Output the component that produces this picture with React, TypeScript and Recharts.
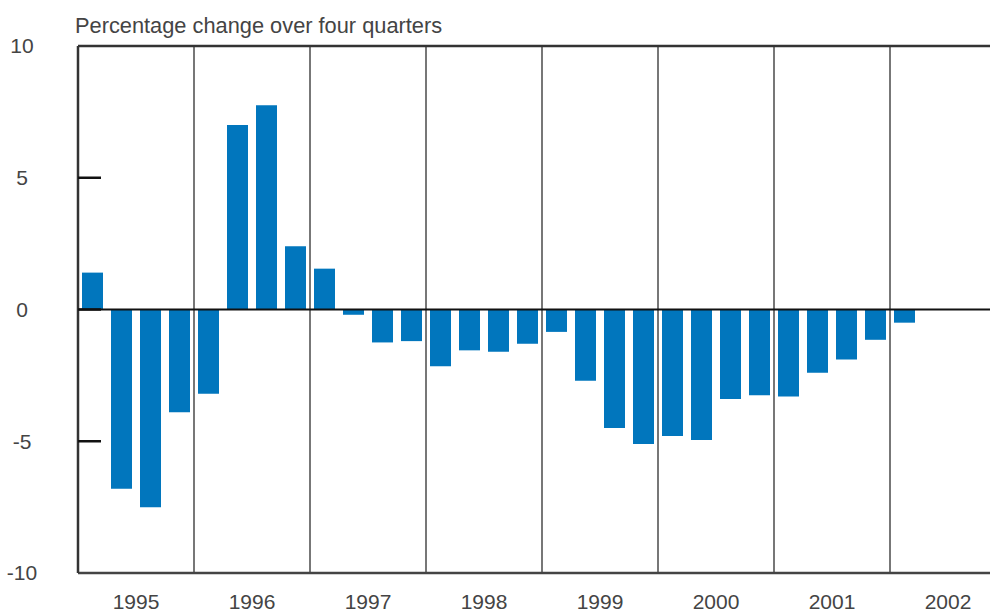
import { BarChart, Bar, XAxis, YAxis, ReferenceLine, CartesianGrid } from 'recharts'

const quarters = [
  '1995Q1', '1995Q2', '1995Q3', '1995Q4',
  '1996Q1', '1996Q2', '1996Q3', '1996Q4',
  '1997Q1', '1997Q2', '1997Q3', '1997Q4',
  '1998Q1', '1998Q2', '1998Q3', '1998Q4',
  '1999Q1', '1999Q2', '1999Q3', '1999Q4',
  '2000Q1', '2000Q2', '2000Q3', '2000Q4',
  '2001Q1', '2001Q2', '2001Q3', '2001Q4',
  '2002Q1', '2002Q2', '2002Q3', '2002Q4',
]
const changes: (number | null)[] = [
  1.4, -6.8, -7.5, -3.9,
  -3.2, 7.0, 7.75, 2.4,
  1.55, -0.2, -1.25, -1.2,
  -2.15, -1.55, -1.6, -1.3,
  -0.85, -2.7, -4.5, -5.1,
  -4.8, -4.95, -3.4, -3.25,
  -3.3, -2.4, -1.9, -1.15,
  -0.5, null, null, null,
]
const years = ['1995', '1996', '1997', '1998', '1999', '2000', '2001', '2002']
const yTicks = [-10, -5, 0, 5, 10]

const data = quarters.map((q, i) => ({ q, value: changes[i] }))
const yearTickQuarters = years.map((y) => y + 'Q2')

const FONT = '"Liberation Sans", Arial, sans-serif'
const TEXT = '#444'
const WIDTH = 1020
const HEIGHT = 611
const MARGIN = { top: 46, right: 14, bottom: 0, left: 0 }
const Y_AXIS_W = 78
const PLOT_LEFT = MARGIN.left + Y_AXIS_W
const PLOT_W = WIDTH - MARGIN.right - PLOT_LEFT
const BAND = PLOT_W / quarters.length

function YTick({ y, payload }: any) {
  const v = payload.value
  return (
    <g>
      <text x={22} y={y} dy="0.35em" textAnchor="middle" fontSize={21} fill={TEXT} fontFamily={FONT}>
        {v}
      </text>
      {Math.abs(v) < 10 && (
        <line x1={PLOT_LEFT} x2={PLOT_LEFT + 23} y1={y} y2={y} stroke="#111" strokeWidth={2.5} />
      )}
    </g>
  )
}

function YearTick({ x, payload }: any) {
  return (
    <text x={x + BAND / 2} y={609} textAnchor="middle" fontSize={21} fill={TEXT} fontFamily={FONT}>
      {String(payload.value).slice(0, 4)}
    </text>
  )
}

export default function App() {
  return (
    <div style={{ position: 'fixed', left: 0, top: 0, width: 990, height: 611, overflow: 'hidden', background: '#fff' }}>
      <div style={{ position: 'absolute', left: 75, top: 13, fontSize: 21.8, color: TEXT, fontFamily: FONT, whiteSpace: 'nowrap' }}>
        Percentage change over four quarters
      </div>
      <BarChart width={WIDTH} height={HEIGHT} data={data} margin={MARGIN} barSize={21}>
        <CartesianGrid
          horizontal={false}
          stroke="#777"
          strokeWidth={2}
          verticalCoordinatesGenerator={({ offset }: any) =>
            years.slice(1).map((_, i) => offset.left + ((i + 1) * offset.width) / years.length)
          }
        />
        <XAxis
          dataKey="q"
          ticks={yearTickQuarters}
          interval={0}
          tick={<YearTick />}
          tickLine={false}
          axisLine={{ stroke: '#444', strokeWidth: 2.5 }}
          height={38}
        />
        <YAxis
          domain={[-10, 10]}
          ticks={yTicks}
          width={Y_AXIS_W}
          tick={<YTick />}
          tickLine={false}
          axisLine={{ stroke: '#333', strokeWidth: 2.5 }}
        />
        <ReferenceLine y={10} stroke="#333" strokeWidth={2.5} />
        <ReferenceLine y={0} stroke="#111" strokeWidth={2} />
        <Bar dataKey="value" fill="#0176BD" isAnimationActive={false} />
      </BarChart>
    </div>
  )
}
